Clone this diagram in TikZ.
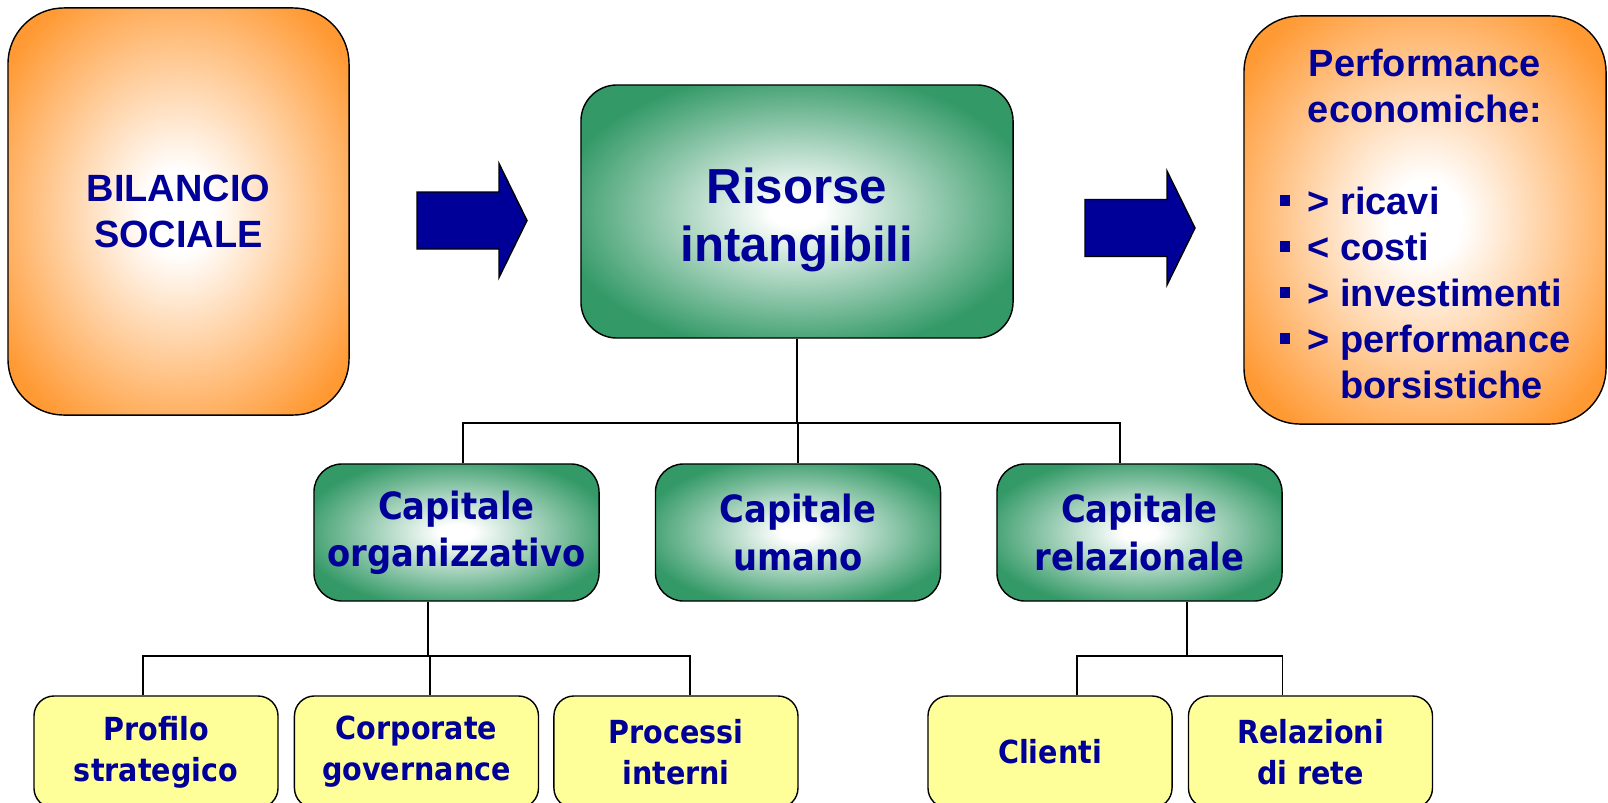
\documentclass[tikz,border=0pt]{standalone}
\usepackage{fontspec}
\setmainfont{Liberation Sans}
\newfontfamily\condfont{DejaVu Sans Condensed}
\usetikzlibrary{positioning,calc}
\definecolor{textnavy}{RGB}{0,0,153}
\definecolor{sourceorange}{RGB}{255,153,51}
\definecolor{resourcegreen}{RGB}{51,153,102}
\definecolor{itemyellow}{RGB}{255,255,153}
\pgfdeclareradialshading{orangeglow}{\pgfpoint{0bp}{0bp}}{color(0bp)=(white); color(5bp)=(white); color(31bp)=(sourceorange); color(50bp)=(sourceorange)}
\pgfdeclareradialshading{greenglow}{\pgfpoint{0bp}{0bp}}{color(0bp)=(white); color(3bp)=(white); color(28bp)=(resourcegreen); color(50bp)=(resourcegreen)}
\newcommand{\sqbullet}{\rule[6.2pt]{7.5pt}{7.5pt}}
\tikzstyle{sourcebox} = [rectangle, rounded corners=1.4cm, draw=black, line width=1pt, shading=orangeglow, text=textnavy, align=center, font=\fontsize{27pt}{32.7pt}\selectfont\bfseries]
\tikzstyle{resourcebox} = [rectangle, rounded corners=0.9cm, draw=black, line width=1pt, shading=greenglow, text=textnavy, align=center, minimum width=10.8cm, minimum height=6.325cm, font=\fontsize{35pt}{41.3pt}\selectfont\bfseries]
\tikzstyle{capitalbox} = [rectangle, rounded corners=0.7cm, draw=black, line width=1pt, shading=greenglow, text=textnavy, align=center, minimum width=7.125cm, minimum height=3.425cm, font=\condfont\fontsize{26.7pt}{33.5pt}\selectfont\bfseries]
\tikzstyle{itembox} = [rectangle, rounded corners=0.5cm, draw=black, line width=1pt, fill=itemyellow, text=textnavy, align=center, minimum width=6.1cm, minimum height=2.8cm, font=\condfont\fontsize{22.6pt}{29.2pt}\selectfont\bfseries]
\tikzstyle{treeline} = [line width=1.4pt, color=black]
\tikzstyle{blockarrow} = [line width=1pt, draw=black, fill=textnavy]
\begin{document}
\begin{tikzpicture}[x=0.025cm, y=-0.025cm]
\useasboundingbox (0,0) rectangle (1608,802);
\clip (0,0) rectangle (1608,802);

% Top row
\node[sourcebox, minimum width=8.525cm, minimum height=10.175cm] (bilancio) at (178.5,211.5) {BILANCIO\\SOCIALE};
\node[resourcebox] (risorse) at (797,211.5) {\rule{0pt}{37pt}Risorse\\intangibili};
\node[sourcebox, minimum width=9.05cm, minimum height=10.2cm] (perf) at (1425,220) {\rule{0pt}{35pt}Performance\\economiche:\\[32.7pt]
  \begin{tabular}[t]{@{}l@{\hspace{12.5pt}}l@{}}
  \sqbullet & > ricavi\\
  \sqbullet & < costi\\
  \sqbullet & > investimenti\\
  \sqbullet & > performance\\
  & \phantom{>} borsistiche
  \end{tabular}};

% Block arrows
\coordinate (arrowA) at (417,192);
\coordinate (arrowB) at (1085,199.5);
\draw[blockarrow] (arrowA) -- ++(82,0) -- ++(0,-28.5) -- ++(28,57) -- ++(-28,57) -- ++(0,-28.5) -- ++(-82,0) -- cycle;
\draw[blockarrow] (arrowB) -- ++(82,0) -- ++(0,-28.5) -- ++(28,57) -- ++(-28,57) -- ++(0,-28.5) -- ++(-82,0) -- cycle;

% Capitals
\node[capitalbox] (umano) at (798,532.5) {Capitale\\umano};
\node[capitalbox, left=1.375cm of umano] (organizzativo) {Capitale\\organizzativo};
\node[capitalbox, right=1.375cm of umano] (relazionale) {Capitale\\relazionale};

% Items
\node[itembox] (profilo) at (156,752) {Profilo\\strategico};
\node[itembox, right=0.375cm of profilo] (corporate) {Corporate\\governance};
\node[itembox, right=0.35cm of corporate] (processi) {Processi\\interni};
\node[itembox] (clienti) at (1050,752) {Clienti};
\node[itembox, right=0.375cm of clienti] (relazioni) {Relazioni\\di rete};

% Tree connectors
\coordinate[below=2.1cm of risorse.south] (risbus);
\draw[treeline] (risorse.south) -- (risbus);
\draw[treeline] ([xshift=0.16cm]organizzativo.north) |- (risbus);
\draw[treeline] (umano.north) |- (risbus);
\draw[treeline] ([xshift=-0.49cm]relazionale.north) |- (risbus);

\coordinate (orgbus) at ([xshift=-0.71cm, yshift=-1.35cm]organizzativo.south);
\draw[treeline] ([xshift=-0.71cm]organizzativo.south) -- (orgbus);
\draw[treeline] ([xshift=-0.33cm]profilo.north) |- (orgbus);
\draw[treeline] ([xshift=0.34cm]corporate.north) |- (orgbus);
\draw[treeline] ([xshift=0.35cm]processi.north) |- (orgbus);

\coordinate (relbus) at ([xshift=1.19cm, yshift=-1.35cm]relazionale.south);
\draw[treeline] ([xshift=1.19cm]relazionale.south) -- (relbus);
\draw[treeline] ([xshift=0.675cm]clienti.north) |- (relbus);
\draw[treeline] ([xshift=-0.7cm]relazioni.north) |- (relbus);

\end{tikzpicture}
\end{document}
